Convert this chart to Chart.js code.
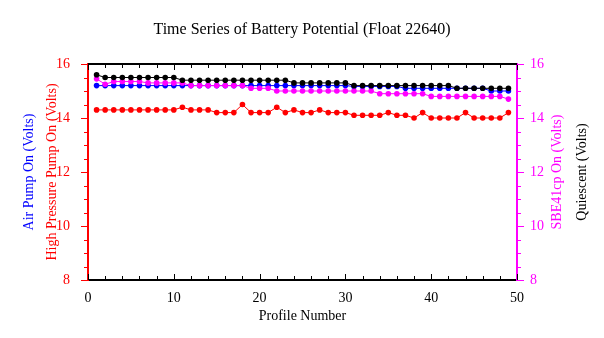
<!DOCTYPE html>
<html>
<head>
<meta charset="utf-8">
<script src="https://cdn.jsdelivr.net/npm/chart.js@4.4.1/dist/chart.umd.min.js"></script>
<style>
body { margin: 0; background: #fff; }
#wrap { width: 604px; height: 338px; }
</style>
</head>
<body>
<div id="wrap"><canvas id="batteryChart" width="604" height="338"></canvas></div>
<script>
// Profile numbers
const profiles = [1,2,3,4,5,6,7,8,9,10,11,12,13,14,15,16,17,18,19,20,21,22,23,24,25,
  26,27,28,29,30,31,32,33,34,35,36,37,38,39,40,41,42,43,44,45,46,47,48,49];

// High Pressure Pump On (red)
const highPressure = [14.3,14.3,14.3,14.3,14.3,14.3,14.3,14.3,14.3,14.3,
  14.4,14.3,14.3,14.3,14.2,14.2,14.2,14.5,14.2,14.2,
  14.2,14.4,14.2,14.3,14.2,14.2,14.3,14.2,14.2,14.2,
  14.1,14.1,14.1,14.1,14.2,14.1,14.1,14.0,14.2,14.0,
  14.0,14.0,14.0,14.2,14.0,14.0,14.0,14.0,14.2];

// Air Pump On (blue)
const airPump = [15.2,15.2,15.2,15.2,15.2,15.2,15.2,15.2,15.2,15.2,
  15.2,15.2,15.2,15.2,15.2,15.2,15.2,15.2,15.2,15.2,
  15.2,15.2,15.2,15.2,15.2,15.2,15.2,15.2,15.2,15.2,
  15.17,15.17,15.17,15.17,15.17,15.17,15.1,15.1,15.1,15.1,
  15.1,15.1,15.1,15.1,15.1,15.1,15.0,15.0,15.0];

// SBE41cp On (magenta)
const sbe41cp = [15.45,15.25,15.35,15.35,15.35,15.35,15.3,15.3,15.3,15.3,
  15.3,15.2,15.2,15.2,15.2,15.2,15.2,15.2,15.1,15.1,
  15.1,15.0,15.0,15.0,15.0,15.0,15.0,15.0,15.0,15.0,
  15.0,15.0,15.0,14.9,14.9,14.9,14.9,14.9,14.9,14.8,
  14.8,14.8,14.8,14.8,14.8,14.8,14.8,14.8,14.7];

// Quiescent (black)
const quiescent = [15.6,15.5,15.5,15.5,15.5,15.5,15.5,15.5,15.5,15.5,
  15.4,15.4,15.4,15.4,15.4,15.4,15.4,15.4,15.4,15.4,
  15.4,15.4,15.4,15.3,15.3,15.3,15.3,15.3,15.3,15.3,
  15.2,15.2,15.2,15.2,15.2,15.2,15.2,15.2,15.2,15.2,
  15.2,15.2,15.1,15.1,15.1,15.1,15.1,15.1,15.1];

const FONT = "'Liberation Serif', 'Times New Roman', serif";

function series(values, color, order) {
  return {
    data: profiles.map((p, i) => ({ x: p, y: values[i] })),
    borderColor: color,
    backgroundColor: color,
    borderWidth: 1,
    pointRadius: 2.8,
    pointStyle: "circle",
    pointBorderWidth: 0,
    order: order,
    yAxisID: "y"
  };
}

// Frame, inward/outward ticks and titles
const framePlugin = {
  id: "frame",
  afterDraw(chart) {
    const ctx = chart.ctx;
    const area = chart.chartArea;
    const xs = chart.scales.x;
    const ys = chart.scales.y;
    ctx.save();

    // top line
    ctx.strokeStyle = "#000";
    ctx.lineWidth = 2;
    ctx.beginPath();
    ctx.moveTo(area.left, area.top);
    ctx.lineTo(area.right, area.top);
    ctx.stroke();

    // x ticks (inward, top and bottom)
    ctx.lineWidth = 1;
    for (let v = 0; v <= 50; v += 2) {
      const px = Math.round(xs.getPixelForValue(v)) + 0.5;
      const len = v % 10 === 0 ? 6 : 4;
      ctx.beginPath();
      ctx.moveTo(px, area.bottom);
      ctx.lineTo(px, area.bottom - len);
      ctx.moveTo(px, area.top);
      ctx.lineTo(px, area.top + len);
      ctx.stroke();
    }

    // y ticks (outward)
    for (let v = 8; v <= 16; v += 0.5) {
      const py = Math.round(ys.getPixelForValue(v)) + 0.5;
      const len = v % 2 === 0 ? 7 : 4;
      ctx.strokeStyle = "#ff0000";
      ctx.beginPath();
      ctx.moveTo(area.left, py);
      ctx.lineTo(area.left - len, py);
      ctx.stroke();
      ctx.strokeStyle = "#ff00ff";
      ctx.beginPath();
      ctx.moveTo(area.right, py);
      ctx.lineTo(area.right + len, py);
      ctx.stroke();
    }

    // titles
    ctx.textAlign = "center";
    ctx.textBaseline = "middle";
    ctx.fillStyle = "#000";
    ctx.font = "16px " + FONT;
    ctx.fillText("Time Series of Battery Potential (Float 22640)", 302, 30);
    ctx.font = "14px " + FONT;
    ctx.fillText("Profile Number", (area.left + area.right) / 2, 316);

    const midY = (area.top + area.bottom) / 2;
    const vertical = (text, x, color) => {
      ctx.save();
      ctx.translate(x, midY);
      ctx.rotate(-Math.PI / 2);
      ctx.fillStyle = color;
      ctx.fillText(text, 0, 0);
      ctx.restore();
    };
    vertical("Air Pump On (Volts)", 29, "#0000ff");
    vertical("High Pressure Pump On (Volts)", 52, "#ff0000");
    vertical("SBE41cp On (Volts)", 557, "#ff00ff");
    vertical("Quiescent (Volts)", 582, "#000000");

    ctx.restore();
  }
};

new Chart(document.getElementById("batteryChart"), {
  type: "line",
  data: {
    datasets: [
      series(highPressure, "#ff0000", 4),
      series(airPump, "#0000ff", 3),
      series(sbe41cp, "#ff00ff", 2),
      series(quiescent, "#000000", 1)
    ]
  },
  options: {
    responsive: false,
    animation: false,
    layout: { padding: { top: 64, left: 0, right: 0, bottom: 0 } },
    plugins: {
      legend: { display: false },
      tooltip: { enabled: false }
    },
    scales: {
      x: {
        type: "linear",
        min: 0,
        max: 50,
        grid: { display: false },
        border: { display: true, color: "#000", width: 2 },
        ticks: {
          stepSize: 10,
          color: "#000",
          padding: 2,
          maxRotation: 0,
          font: { family: FONT, size: 14 }
        },
        afterFit(scale) { scale.height = 58; }
      },
      y: {
        position: "left",
        min: 8,
        max: 16,
        grid: { display: false },
        border: { display: true, color: "#ff0000", width: 2 },
        ticks: {
          stepSize: 2,
          color: "#ff0000",
          padding: 10,
          font: { family: FONT, size: 14 }
        },
        afterFit(scale) { scale.width = 88; }
      },
      y2: {
        position: "right",
        min: 8,
        max: 16,
        grid: { display: false },
        border: { display: true, color: "#ff00ff", width: 2 },
        ticks: {
          stepSize: 2,
          color: "#ff00ff",
          padding: 5,
          font: { family: FONT, size: 14 }
        },
        afterFit(scale) { scale.width = 87; }
      }
    }
  },
  plugins: [framePlugin]
});
</script>
</body>
</html>
